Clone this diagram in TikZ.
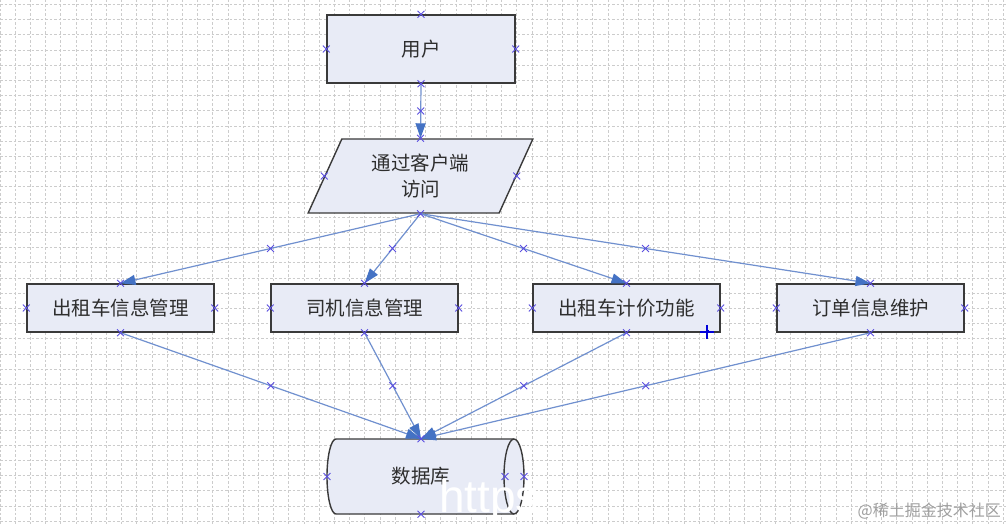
\documentclass[tikz,border=0pt]{standalone}
\usepackage{fontspec}
\newfontfamily\cjk{Noto Sans CJK SC}
\newfontfamily\lsans{Liberation Sans}
\usetikzlibrary{shapes.geometric,shapes.misc,arrows.meta}
\definecolor{boxfill}{HTML}{E8EBF6}
\definecolor{boxline}{HTML}{3A3A3A}
\definecolor{linec}{HTML}{7090CF}
\definecolor{headc}{HTML}{4472C4}
\definecolor{markc}{HTML}{5B4FE0}
\definecolor{gridc}{HTML}{CCCCCC}
\definecolor{txtc}{HTML}{2E2E2E}
\tikzset{
  gridline/.style={draw=gridc, line width=0.7pt, dash pattern=on 2.5pt off 2pt},
  boxshape/.style={draw=boxline, fill=boxfill, line width=1.4pt, inner sep=0pt, text=txtc,
    font=\cjk\fontsize{19.5}{26}\selectfont, align=center},
  rowbox/.style={boxshape, rectangle, minimum width=187, minimum height=48},
  conn/.style={draw=linec, line width=1.2pt, -{Triangle[length=15pt,width=10pt,color=headc]}},
  xm/.style={cross out, draw=markc, line width=0.9pt, minimum size=6pt, inner sep=0pt},
}
\begin{document}
\begin{tikzpicture}[x=1pt,y=-1pt]
\useasboundingbox[fill=white] (0,0) rectangle (1007,526);
% grid
\foreach \i in {0,...,66} \draw[gridline] (\i*15.2,0) -- (\i*15.2,526);
\foreach \j in {0,...,34} \draw[gridline] (0,4.3+\j*15.2) -- (1007,4.3+\j*15.2);

% nodes
\node[boxshape, rectangle, minimum width=188, minimum height=68] (u) at (421,49) {用户};
\node[boxshape, trapezium, trapezium left angle=64.7, trapezium right angle=115.3,
  trapezium stretches=true, minimum width=225, minimum height=74] (p) at (420.5,176) {通过客户端\\访问};
\node[rowbox] (b1) at (120.5,308) {出租车信息管理};
\node[rowbox] (b2) at (364.5,308) {司机信息管理};
\node[rowbox] (b3) at (626.5,308) {出租车计价功能};
\node[rowbox] (b4) at (870.5,308) {订单信息维护};

% database cylinder
\path[draw=boxline, fill=boxfill, line width=1.4pt] (336,439) -- (514,439)
  arc[start angle=90, end angle=-90, x radius=10pt, y radius=37.5pt] -- (336,514)
  arc[start angle=270, end angle=90, x radius=9pt, y radius=37.5pt] -- cycle;
\draw[boxline, line width=1.4pt] (514,439) arc[start angle=90, end angle=270, x radius=10pt, y radius=37.5pt];
\node[minimum width=178, minimum height=75, inner sep=0pt, text=txtc, font=\cjk\fontsize{19.5}{26}\selectfont] (db) at (421,476.5) {数据库};

% connectors
\draw[conn] (u.south) -- node[xm]{} (p.north);
\draw[conn] (p.south) -- node[xm]{} (b1.north);
\draw[conn] (p.south) -- node[xm]{} (b2.north);
\draw[conn] (p.south) -- node[xm]{} (b3.north);
\draw[conn] (p.south) -- node[xm]{} (b4.north);
\draw[conn] (b1.south) -- node[xm]{} (db.north);
\draw[conn] (b2.south) -- node[xm]{} (db.north);
\draw[conn] (b3.south) -- node[xm]{} (db.north);
\draw[conn] (b4.south) -- node[xm]{} (db.north);

% connection marks
\foreach \n in {u,b1,b2,b3,b4} {
  \node[xm] at (\n.north) {};
  \node[xm] at (\n.south) {};
  \node[xm] at (\n.west) {};
  \node[xm] at (\n.east) {};
}
\node[xm] at (p.north) {};
\node[xm] at (p.south) {};
\node[xm] at (p.left side) {};
\node[xm] at (p.right side) {};
\node[xm] at (db.north) {};
\node[xm] at (db.south) {};
\node[xm] at (327,476.5) {};
\node[xm] at (505,476.5) {};
\node[xm] at (524,476.5) {};

% cursor mark
\draw[draw=blue!85!black, line width=1.2pt] (700,332) -- (714,332) (707,325) -- (707,339);
\fill[blue!85!black] (705.5,330.5) rectangle (708.5,333.5);

% watermark
\node[anchor=base west, inner sep=0pt, text=white, font=\lsans\fontsize{46}{46}\selectfont] (wm1) at (439,512) {https};
\node[anchor=east, inner sep=0pt, text=gray!75, font=\cjk\fontsize{16}{16}\selectfont] (wm2) at (1001,511) {@稀土掘金技术社区};
\end{tikzpicture}
\end{document}
